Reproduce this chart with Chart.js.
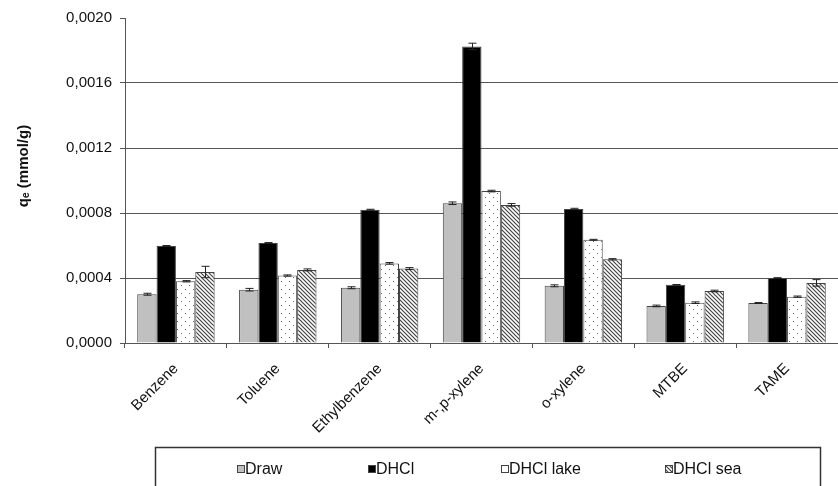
<!DOCTYPE html>
<html>
<head>
<meta charset="utf-8">
<script src="https://cdn.jsdelivr.net/npm/chart.js@4/dist/chart.umd.min.js"></script>
<style>
  html, body { margin: 0; padding: 0; background: #fff; }
  #wrap { width: 838px; height: 486px; position: relative; }
</style>
</head>
<body>
<div id="wrap"><canvas id="chart"></canvas></div>
<script>
const categories = ['Benzene', 'Toluene', 'Ethylbenzene', 'm-,p-xylene', 'o-xylene', 'MTBE', 'TAME'];
const seriesNames = ['Draw', 'DHCl', 'DHCl lake', 'DHCl sea'];

const drawValues = [0.000300, 0.000328, 0.000340, 0.000860, 0.000352, 0.000228, 0.000246];
const dhclValues = [0.000597, 0.000615, 0.000820, 0.001825, 0.000825, 0.000358, 0.000400];
const lakeValues = [0.000380, 0.000415, 0.000490, 0.000935, 0.000635, 0.000248, 0.000285];
const seaValues = [0.000437, 0.000450, 0.000458, 0.000850, 0.000515, 0.000320, 0.000370];

const drawErr = [0.000006, 0.000008, 0.000006, 0.000008, 0.000006, 0.000005, 0.000003];
const dhclErr = [0.000003, 0.000003, 0.000003, 0.000020, 0.000004, 0.000002, 0.000002];
const lakeErr = [0.000004, 0.000004, 0.000005, 0.000005, 0.000003, 0.000005, 0.000004];
const seaErr = [0.000035, 0.000006, 0.000006, 0.000008, 0.000004, 0.000005, 0.000020];

const yTicks = [0, 0.0004, 0.0008, 0.0012, 0.0016, 0.0020];
const yTitle = 'qₑ (mmol/g)';

const FONT = '"Liberation Sans", Arial, sans-serif';

function dotPattern() {
  const c = document.createElement('canvas');
  c.width = 8; c.height = 8;
  const g = c.getContext('2d');
  g.fillStyle = '#fff';
  g.fillRect(0, 0, 8, 8);
  g.fillStyle = '#666';
  g.fillRect(1, 1, 1, 1);
  g.fillRect(5, 5, 1, 1);
  return g.createPattern(c, 'repeat');
}

function hatchPattern() {
  const c = document.createElement('canvas');
  c.width = 4; c.height = 4;
  const g = c.getContext('2d');
  g.fillStyle = '#fff';
  g.fillRect(0, 0, 4, 4);
  g.strokeStyle = '#444';
  g.lineWidth = 1.2;
  g.beginPath();
  g.moveTo(0, 0); g.lineTo(4, 4);
  g.moveTo(-1, 3); g.lineTo(1, 5);
  g.moveTo(3, -1); g.lineTo(5, 1);
  g.stroke();
  return g.createPattern(c, 'repeat');
}

const fills = ['#c0c0c0', '#000000', dotPattern(), hatchPattern()];
const values = [drawValues, dhclValues, lakeValues, seaValues];
const errors = [drawErr, dhclErr, lakeErr, seaErr];

const errorBars = {
  id: 'errorBars',
  afterDatasetsDraw(chart) {
    const ctx = chart.ctx;
    const y = chart.scales.y;
    ctx.save();
    ctx.strokeStyle = '#222';
    ctx.lineWidth = 1;
    chart.data.datasets.forEach((ds, i) => {
      chart.getDatasetMeta(i).data.forEach((bar, j) => {
        const v = ds.data[j], e = errors[i][j];
        const top = y.getPixelForValue(v + e);
        const bot = y.getPixelForValue(v - e);
        const x = Math.round(bar.x) + 0.5;
        ctx.beginPath();
        ctx.moveTo(x, top); ctx.lineTo(x, bot);
        ctx.moveTo(x - 4, top); ctx.lineTo(x + 4, top);
        ctx.moveTo(x - 4, bot); ctx.lineTo(x + 4, bot);
        ctx.stroke();
      });
    });
    ctx.restore();
  }
};

// y title sits a bit above the middle of the axis, so draw it by hand
const axisTitle = {
  id: 'axisTitle',
  afterDraw(chart) {
    const ctx = chart.ctx;
    ctx.save();
    ctx.translate(24, 166);
    ctx.rotate(-Math.PI / 2);
    ctx.font = 'bold 15px ' + FONT;
    ctx.fillStyle = '#111';
    ctx.textAlign = 'center';
    ctx.textBaseline = 'middle';
    ctx.fillText(yTitle, 0, 0);
    ctx.restore();
  }
};

// legend drawn inside a framed box under the axis labels
const legendBox = {
  id: 'legendBox',
  afterDraw(chart) {
    const ctx = chart.ctx;
    ctx.save();
    ctx.strokeStyle = '#333';
    ctx.lineWidth = 1.5;
    ctx.strokeRect(155.5, 447.5, 665, 60);
    const xs = [237, 368, 501, 665];
    ctx.font = '16px ' + FONT;
    ctx.textBaseline = 'middle';
    chart.data.datasets.forEach((ds, i) => {
      const x = xs[i], cy = 469;
      ctx.fillStyle = ds.backgroundColor;
      ctx.fillRect(x, cy - 4, 8, 8);
      ctx.strokeStyle = '#444';
      ctx.lineWidth = 1;
      ctx.strokeRect(x + 0.5, cy - 3.5, 7, 7);
      ctx.fillStyle = '#111';
      ctx.fillText(ds.label, x + 8, cy + 1);
    });
    ctx.restore();
  }
};

new Chart(document.getElementById('chart'), {
  type: 'bar',
  data: {
    labels: categories,
    datasets: seriesNames.map((name, i) => ({
      label: name,
      data: values[i],
      backgroundColor: fills[i],
      borderColor: '#444',
      borderWidth: 1,
      categoryPercentage: 0.76,
      barPercentage: 1.0
    }))
  },
  options: {
    responsive: true,
    maintainAspectRatio: false,
    animation: false,
    layout: { padding: { left: 0, top: 18, right: 0, bottom: 0 } },
    plugins: {
      legend: { display: false },
      tooltip: { enabled: false }
    },
    scales: {
      x: {
        grid: {
          offset: true,
          drawOnChartArea: false,
          drawTicks: true,
          tickLength: 5,
          tickColor: '#555'
        },
        border: { color: '#555', width: 1 },
        ticks: {
          color: '#111',
          font: { family: FONT, size: 15 },
          maxRotation: 45,
          minRotation: 45,
          padding: 12
        },
        afterFit(scale) { scale.height = 143; }
      },
      y: {
        min: 0,
        max: 0.002,
        afterBuildTicks(scale) { scale.ticks = yTicks.map(v => ({ value: v })); },
        grid: {
          color: ctx => (ctx.tick && ctx.tick.value > 0 && ctx.tick.value < 0.002) ? '#555' : 'rgba(0,0,0,0)',
          tickColor: '#555',
          tickLength: 5,
          lineWidth: 1
        },
        border: { color: '#555', width: 1 },
        ticks: {
          color: '#111',
          font: { family: FONT, size: 15 },
          padding: 8,
          callback: v => v.toFixed(4).replace('.', ',')
        },
        afterFit(scale) { scale.width = 125; }
      }
    }
  },
  plugins: [errorBars, axisTitle, legendBox]
});
</script>
</body>
</html>
